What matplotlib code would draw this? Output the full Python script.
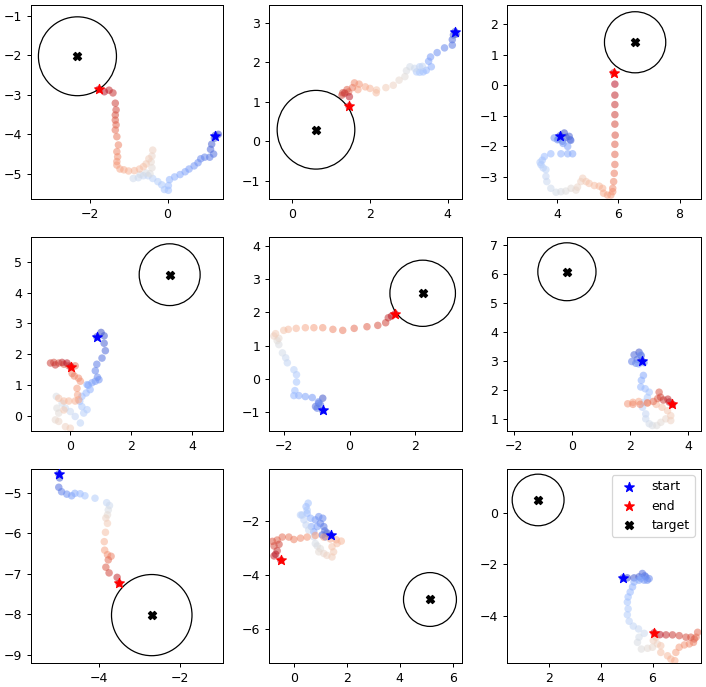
import matplotlib
matplotlib.use("Agg")
import matplotlib.pyplot as plt
import numpy as np
from matplotlib.patches import Circle
from matplotlib.ticker import MultipleLocator

# ---------------- data ----------------
x1 = [1.22, 1.30, 1.20, 1.13, 1.10, 1.18, 1.08, 0.95, 0.85, 0.78, 0.68, 0.55, 0.45, 0.32, 0.18, 0.05,
      0.02, 0.02, -0.08, -0.15, -0.25, -0.38, -0.50, -0.62, -0.75, -0.88, -0.70, -0.55, -0.45, -0.40,
      -0.42, -0.40, -0.38, -0.48, -0.55, -0.62, -0.72, -0.85, -1.00, -1.12, -1.22, -1.30, -1.30, -1.28,
      -1.30, -1.26, -1.30, -1.34, -1.32, -1.34, -1.34, -1.32, -1.34, -1.40, -1.50, -1.62, -1.76]
y1 = [-4.03, -4.00, -4.10, -4.25, -4.38, -4.50, -4.58, -4.58, -4.62, -4.72, -4.80, -4.88, -4.95, -5.02,
      -5.08, -5.15, -5.30, -5.42, -5.40, -5.28, -5.20, -5.12, -5.05, -5.05, -5.10, -5.12, -5.02, -4.98,
      -5.00, -4.85, -4.70, -4.55, -4.40, -4.62, -4.75, -4.82, -4.88, -4.92, -4.93, -4.90, -4.88, -4.78,
      -4.69, -4.57, -4.44, -4.27, -4.06, -3.89, -3.76, -3.64, -3.51, -3.38, -3.21, -2.95, -2.88, -2.92, -2.86]
t1 = (-2.31, -2.02)

x2 = [4.19, 4.22, 4.15, 4.12, 4.12, 3.92, 3.73, 3.56, 3.51, 3.58, 3.45, 3.37, 3.28, 3.20, 3.28, 3.35,
      3.15, 3.03, 2.94, 2.90, 2.75, 2.60, 2.41, 2.17, 2.16, 2.00, 1.88, 1.69, 1.72, 1.60, 1.55, 1.45,
      1.41, 1.30, 1.28, 1.35, 1.47, 1.46]
y2 = [2.78, 2.72, 2.70, 2.58, 2.44, 2.37, 2.25, 2.14, 2.03, 1.89, 1.80, 1.76, 1.75, 1.76, 1.89, 1.90,
      1.85, 1.89, 1.79, 1.64, 1.55, 1.42, 1.36, 1.30, 1.23, 1.34, 1.38, 1.31, 1.45, 1.48, 1.36, 1.25,
      1.31, 1.23, 1.17, 1.22, 1.13, 0.89]
t2 = (0.61, 0.29)

x3 = [4.10, 4.24, 4.30, 4.40, 4.45, 4.43, 4.18, 4.05, 4.02, 3.91, 4.20, 4.35, 4.51, 4.35, 4.13, 3.80,
      3.59, 3.52, 3.48, 3.45, 3.55, 3.64, 3.64, 3.67, 3.80, 3.97, 4.13, 4.29, 4.46, 4.62, 4.67, 4.78,
      4.84, 4.95, 5.05, 5.22, 5.38, 5.49, 5.52, 5.65, 5.76, 5.82, 5.82, 5.85, 5.87, 5.89, 5.89, 5.89,
      5.90, 5.89, 5.89, 5.89, 5.89, 5.89, 5.85]
y3 = [-1.65, -1.56, -1.70, -1.67, -1.80, -1.78, -1.83, -1.75, -1.78, -1.72, -1.90, -2.00, -2.24, -2.24,
      -2.24, -2.24, -2.33, -2.45, -2.60, -2.52, -2.70, -2.76, -2.98, -3.15, -3.37, -3.50, -3.48, -3.46,
      -3.37, -3.43, -3.33, -3.15, -3.04, -3.15, -3.21, -3.28, -3.30, -3.37, -3.53, -3.59, -3.59, -3.48,
      -3.37, -3.15, -2.88, -2.59, -2.26, -1.93, -1.63, -1.27, -0.96, -0.63, -0.32, 0.04, 0.41]
t3 = (6.55, 1.41)

x4 = [0.88, 1.02, 1.12, 1.12, 1.16, 1.05, 0.88, 0.83, 0.90, 0.95, 0.83, 0.72, 0.60, 0.56, 0.66, 0.53,
      0.39, 0.32, 0.39, 0.56, 0.45, 0.34, 0.17, 0.01, -0.15, -0.26, -0.45, -0.43, -0.37, -0.48, -0.37,
      -0.15, 0.01, -0.20, -0.37, -0.20, -0.04, 0.17, 0.28, 0.25, 0.23, 0.34, 0.28, 0.14, 0.07, 0.17,
      -0.04, -0.20, -0.37, -0.53, -0.64, -0.48, -0.26, -0.10, 0.03]
y4 = [2.57, 2.71, 2.60, 2.36, 2.12, 1.88, 1.68, 1.47, 1.26, 1.18, 1.13, 1.08, 1.00, 1.02, 0.86, 0.75,
      0.64, 0.48, 0.31, 0.21, 0.10, -0.22, -0.01, 0.15, 0.26, 0.42, 0.64, 0.26, 0.10, -0.12, -0.17,
      -0.34, -0.39, 0.20, 0.58, 0.49, 0.49, 0.49, 0.53, 0.69, 0.90, 1.13, 1.23, 1.30, 1.38, 1.63, 1.63,
      1.68, 1.72, 1.74, 1.72, 1.66, 1.74, 1.72, 1.60]
t4 = (3.27, 4.58)

x5 = [-0.82, -0.82, -0.94, -1.04, -0.99, -0.89, -0.95, -1.14, -1.35, -1.55, -1.70, -1.67, -1.62, -1.62,
      -1.70, -1.90, -1.95, -2.05, -2.16, -2.21, -2.16, -2.31, -2.26, -2.01, -1.87, -1.63, -1.35, -1.09,
      -0.82, -0.51, -0.21, 0.14, 0.53, 0.86, 1.10, 1.18, 1.28, 1.39]
y5 = [-0.96, -0.59, -0.74, -0.84, -0.89, -0.79, -0.70, -0.57, -0.54, -0.51, -0.51, -0.36, -0.10, 0.12,
      0.27, 0.48, 0.63, 0.78, 1.03, 1.15, 1.22, 1.29, 1.36, 1.46, 1.49, 1.52, 1.54, 1.54, 1.54, 1.49,
      1.46, 1.52, 1.57, 1.61, 1.69, 1.84, 1.89, 1.96]
t5 = (2.23, 2.58)

x6 = [2.41, 2.31, 2.38, 2.14, 2.25, 2.06, 2.20, 2.48, 2.37, 2.30, 2.46, 2.39, 2.37, 2.52, 2.66, 2.60,
      2.48, 2.43, 2.54, 2.54, 2.66, 2.77, 2.92, 3.06, 3.23, 3.40, 3.40, 3.29, 3.10, 2.90, 2.60, 2.30,
      2.10, 1.92, 2.10, 2.35, 2.60, 2.80, 2.95, 3.00, 3.05, 3.15, 3.30, 3.35, 3.46]
y6 = [3.00, 3.30, 3.18, 3.21, 3.05, 2.98, 2.92, 2.94, 3.21, 2.90, 2.50, 2.33, 2.10, 2.04, 1.92, 1.74,
      1.57, 1.40, 1.17, 1.00, 0.83, 0.77, 0.77, 0.88, 1.00, 0.94, 1.11, 1.28, 1.40, 1.50, 1.55, 1.60,
      1.57, 1.52, 1.50, 1.50, 1.55, 1.60, 1.70, 1.92, 1.75, 1.65, 1.68, 1.58, 1.50]
t6 = (-0.17, 6.08)

x7 = [-5.00, -4.98, -5.00, -4.93, -4.80, -4.68, -4.60, -4.47, -4.35, -4.10, -3.81, -3.74, -3.77, -3.79,
      -3.83, -3.79, -3.84, -3.87, -3.86, -3.79, -3.70, -3.77, -3.83, -3.75, -3.55, -3.50]
y7 = [-4.54, -4.64, -4.87, -4.98, -5.04, -5.08, -5.02, -5.03, -5.08, -5.14, -5.25, -5.32, -5.43, -5.55,
      -5.63, -5.76, -5.98, -6.21, -6.42, -6.53, -6.57, -6.66, -6.84, -6.98, -7.09, -7.24]
t7 = (-2.69, -8.02)

x8 = [1.40, 1.25, 1.19, 1.07, 1.17, 1.13, 1.00, 1.09, 0.94, 0.81, 0.88, 0.75, 0.66, 0.63, 0.50, 0.46,
      0.54, 0.50, 0.31, 0.25, 0.38, 0.46, 0.56, 0.75, 0.81, 0.88, 1.00, 0.94, 1.13, 1.25, 1.44, 1.50,
      1.44, 1.63, 1.79, 1.60, 1.38, 1.13, 0.81, 0.50, 0.25, 0.00, -0.19, -0.44, -0.63, -0.81, -0.75,
      -0.56, -0.63, -0.75, -0.69, -0.49]
y8 = [-2.54, -2.45, -2.59, -2.52, -2.37, -2.21, -2.09, -1.90, -1.84, -1.96, -2.21, -2.40, -2.21, -1.90,
      -1.72, -1.47, -1.34, -1.60, -1.78, -1.78, -1.96, -2.15, -2.34, -2.59, -2.84, -2.93, -3.03, -3.15,
      -3.21, -3.28, -3.34, -3.15, -2.96, -2.84, -2.75, -2.70, -2.67, -2.60, -2.54, -2.60, -2.64, -2.69,
      -2.60, -2.60, -2.71, -2.76, -2.93, -2.87, -3.11, -3.30, -3.24, -3.46]
t8 = (5.14, -4.92)

x9 = [4.86, 5.03, 5.29, 5.48, 5.61, 5.70, 5.74, 5.87, 5.80, 5.68, 5.55, 5.48, 5.29, 5.23, 5.14, 5.06,
      5.03, 5.06, 5.03, 5.10, 5.26, 5.46, 5.68, 5.48, 5.42, 5.57, 5.81, 6.00, 6.19, 6.03, 6.13, 6.32,
      6.32, 6.58, 6.71, 6.86, 6.90, 7.03, 7.23, 7.42, 7.58, 7.68, 7.74, 7.61, 7.48, 7.29, 7.03, 6.77,
      6.52, 6.29, 6.06]
y9 = [-2.53, -2.53, -2.53, -2.49, -2.36, -2.45, -2.49, -2.56, -2.62, -2.62, -2.55, -2.62, -2.69, -2.88,
      -3.08, -3.27, -3.47, -3.73, -3.96, -4.21, -4.40, -4.51, -4.68, -4.83, -5.03, -5.29, -5.26, -5.22,
      -5.09, -4.96, -4.83, -5.16, -5.42, -5.55, -5.68, -5.74, -5.42, -5.22, -5.13, -5.09, -5.03, -4.83,
      -4.64, -4.90, -4.83, -4.83, -4.77, -4.74, -4.74, -4.73, -4.66]
t9 = (1.59, 0.49)

paths = [(x1, y1, t1), (x2, y2, t2), (x3, y3, t3),
         (x4, y4, t4), (x5, y5, t5), (x6, y6, t6),
         (x7, y7, t7), (x8, y8, t8), (x9, y9, t9)]
legend_labels = ["start", "end", "target"]

# ---------------- layout ----------------
W, H = 706, 687
DPI = 90
col_px = [(31, 223), (269, 462), (507, 701)]
row_px = [(5, 199), (237, 431), (469, 663)]
limits = [((-3.50, 1.42), (-5.64, -0.72)),
          ((-0.60, 4.37), (-1.47, 3.46)),
          ((2.37, 8.70), (-3.72, 2.63)),
          ((-1.28, 5.02), (-0.48, 5.80)),
          ((-2.46, 3.43), (-1.58, 4.28)),
          ((-2.23, 4.44), (0.58, 7.28)),
          ((-5.69, -0.92), (-9.20, -4.42)),
          ((-0.94, 6.35), (-7.28, -0.07)),
          ((0.39, 7.87), (-5.83, 1.69))]

fig = plt.figure(figsize=(W / DPI, H / DPI), dpi=DPI)
cmap = plt.get_cmap("coolwarm")

for k, (xs, ys, tg) in enumerate(paths):
    r, c = divmod(k, 3)
    x0, x1p = col_px[c]
    y0, y1p = row_px[r]
    ax = fig.add_axes([x0 / W, 1 - y1p / H, (x1p - x0) / W, (y1p - y0) / H])
    n = len(xs)
    cols = cmap(np.linspace(0, 1, n))
    ax.scatter(xs, ys, c=cols, s=36, alpha=0.55, edgecolors="none", zorder=2)
    ax.scatter([xs[0]], [ys[0]], marker="*", color="blue", s=64, zorder=4, label=legend_labels[0])
    ax.scatter([xs[-1]], [ys[-1]], marker="*", color="red", s=64, zorder=4, label=legend_labels[1])
    ax.scatter([tg[0]], [tg[1]], marker="X", color="black", s=42, zorder=4, label=legend_labels[2])
    ax.add_patch(Circle(tg, 1.0, fill=False, edgecolor="black", linewidth=1.0, zorder=3))
    (xl, yl) = limits[k]
    ax.set_xlim(*xl)
    ax.set_ylim(*yl)
    ax.xaxis.set_major_locator(MultipleLocator(2))
    if k == 8:
        ax.legend(loc="upper right")

fig.savefig("out.png", dpi=DPI)
